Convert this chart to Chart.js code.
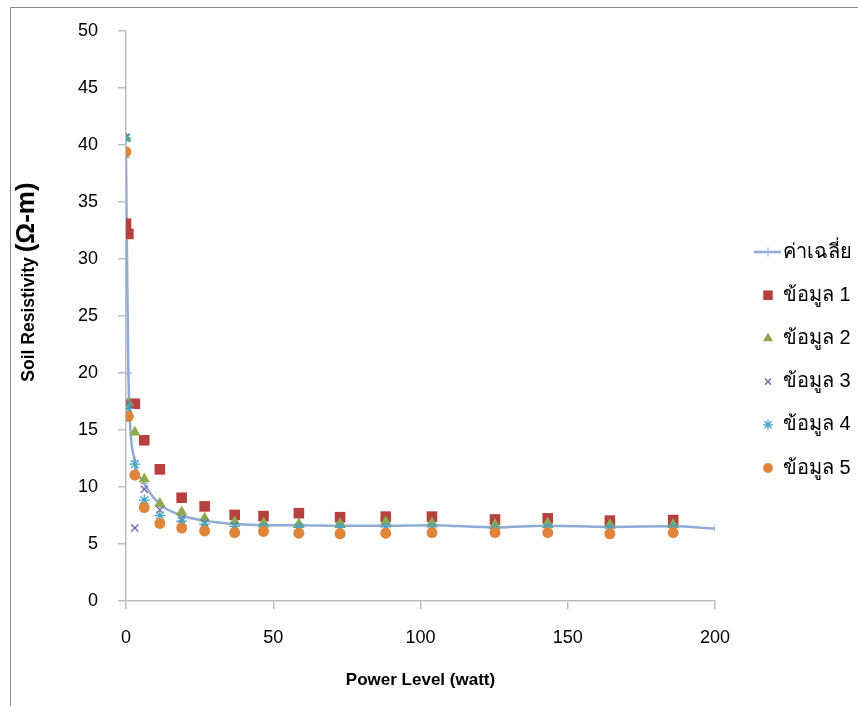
<!DOCTYPE html>
<html>
<head>
<meta charset="utf-8">
<script src="https://cdn.jsdelivr.net/npm/chart.js@4.4.1/dist/chart.umd.min.js"></script>
<style>
  body { margin: 0; background: #fff; }
  canvas { display: block; }
</style>
</head>
<body>
<canvas id="grafica" width="858" height="706"></canvas>
<script>
// valores de potencia (watt) para cada medicion
const powerW   = [0, 0.8, 3, 6.2, 11.5, 18.9, 26.7, 36.9, 46.7, 58.7, 72.7, 88.2, 103.9, 125.3, 143.2, 164.3, 185.8];
const avgPower = [0, 0.8, 3, 6.2, 11.5, 18.9, 26.7, 36.9, 46.7, 58.7, 72.7, 88.2, 103.9, 125.3, 143.2, 164.3, 185.8, 200];

// resistividad (ohm-m) por serie
const avgVals = [38.9, 20.0, 12.3, 10.3, 8.5, 7.5, 7.05, 6.75, 6.65, 6.65, 6.6, 6.6, 6.65, 6.45, 6.6, 6.5, 6.55, 6.35];
const data1 = [33.1, 32.2, 17.3, 14.1, 11.55, 9.06, 8.3, 7.55, 7.45, 7.7, 7.35, 7.4, 7.4, 7.15, 7.25, 7.05, 7.1];
const data2 = [40.6, 17.4, 14.8, 10.7, 8.55, 7.8, 7.25, 6.95, 6.85, 6.75, 6.8, 6.95, 6.85, 6.7, 6.85, 6.7, 6.7];
const data3 = [40.7, 17.4, 6.4, 9.8, 8.0, 7.2, 6.85, 6.6, 6.5, 6.5, 6.45, 6.5, 6.5, 6.35, 6.45, 6.4, 6.45];
const data4 = [40.6, 16.9, 12.0, 8.85, 7.5, 7.0, 6.75, 6.55, 6.5, 6.45, 6.45, 6.5, 6.5, 6.35, 6.45, 6.4, 6.45];
const data5 = [39.4, 16.2, 11.05, 8.2, 6.8, 6.4, 6.15, 6.0, 6.1, 5.95, 5.9, 5.95, 6.0, 6.0, 6.0, 5.9, 6.0];

const labels = ['ค่าเฉลี่ย', 'ข้อมูล 1', 'ข้อมูล 2', 'ข้อมูล 3', 'ข้อมูล 4', 'ข้อมูล 5'];
const xTicks = [0, 50, 100, 150, 200];
const yTicks = [0, 5, 10, 15, 20, 25, 30, 35, 40, 45, 50];

const FONT = '"Liberation Sans", Arial, "Noto Sans", sans-serif';

function pts(xs, ys) {
    return ys.map((v, i) => ({ x: xs[i], y: v }));
}

function serie(label, ys, style, color, radius, order) {
    return {
        type: 'scatter',
        label: label,
        data: pts(powerW, ys),
        pointStyle: style,
        pointRadius: radius,
        pointHoverRadius: radius,
        backgroundColor: color,
        borderColor: color,
        pointBorderWidth: (style === 'crossRot' || style === 'star') ? 1.3 : 0,
        order: order
    };
}

const datasets = [
    {
        type: 'line',
        label: labels[0],
        data: pts(avgPower, avgVals),
        borderColor: '#8fabd8',
        backgroundColor: '#8fabd8',
        borderWidth: 2.5,
        cubicInterpolationMode: 'monotone',
        pointStyle: 'cross',
        pointRadius: 4,
        pointBorderWidth: 1,
        fill: false,
        order: 10
    },
    serie(labels[1], data1, 'rect', '#b6413f', 7.5, 5),
    serie(labels[2], data2, 'triangle', '#8daa4c', 6.5, 4),
    serie(labels[3], data3, 'crossRot', '#7a5fa0', 5, 3),
    serie(labels[4], data4, 'star', '#46a6c2', 5.5, 2),
    serie(labels[5], data5, 'circle', '#e0843a', 5.5, 1)
];

// marco, titulos de ejes y leyenda
const extras = {
    id: 'extras',
    beforeDraw(chart) {
        const ctx = chart.ctx;
        ctx.save();
        ctx.strokeStyle = '#8a8a8a';
        ctx.lineWidth = 1;
        ctx.beginPath();
        ctx.moveTo(10.5, 706);
        ctx.lineTo(10.5, 7.5);
        ctx.lineTo(858, 7.5);
        ctx.stroke();
        ctx.restore();
    },
    afterDraw(chart) {
        const ctx = chart.ctx;
        const area = chart.chartArea;
        ctx.save();
        ctx.fillStyle = '#000';

        // titulo eje x
        ctx.font = 'bold 17px ' + FONT;
        ctx.textAlign = 'center';
        ctx.textBaseline = 'middle';
        ctx.fillText('Power Level (watt)', (area.left + area.right) / 2, 680);

        // titulo eje y (la unidad va mas grande)
        const t1 = 'Soil Resistivity ';
        const t2 = '(Ω-m)';
        const f1 = 'bold 17.5px ' + FONT;
        const f2 = 'bold 26px ' + FONT;
        ctx.font = f1;
        const w1 = ctx.measureText(t1).width;
        ctx.font = f2;
        const w2 = ctx.measureText(t2).width;
        ctx.translate(28, 282);
        ctx.rotate(-Math.PI / 2);
        ctx.textAlign = 'left';
        ctx.textBaseline = 'alphabetic';
        ctx.font = f1;
        ctx.fillText(t1, -(w1 + w2) / 2, 6);
        ctx.font = f2;
        ctx.fillText(t2, -(w1 + w2) / 2 + w1, 6);
        ctx.restore();

        // leyenda
        ctx.save();
        const y0 = 252, paso = 43.2, xm = 768, xt = 783;
        ctx.font = '20px ' + FONT;
        ctx.textBaseline = 'middle';
        ctx.textAlign = 'left';
        chart.data.datasets.forEach((ds, i) => {
            const y = y0 + i * paso;
            ctx.fillStyle = ds.backgroundColor;
            ctx.strokeStyle = ds.borderColor;
            if (i === 0) {
                ctx.lineWidth = 2.5;
                ctx.beginPath();
                ctx.moveTo(754, y);
                ctx.lineTo(781, y);
                ctx.stroke();
                ctx.lineWidth = 1;
                Chart.helpers.drawPoint(ctx, { pointStyle: 'cross', radius: 4.5, borderWidth: 1 }, xm, y);
            } else {
                ctx.lineWidth = ds.pointBorderWidth || 1;
                Chart.helpers.drawPoint(ctx, { pointStyle: ds.pointStyle, radius: ds.pointRadius * 0.9, borderWidth: ds.pointBorderWidth }, xm, y);
            }
            ctx.fillStyle = '#000';
            ctx.fillText(ds.label, xt, y);
        });
        ctx.restore();
    }
};

const ctx = document.getElementById('grafica').getContext('2d');
const chart = new Chart(ctx, {
    data: { datasets: datasets },
    options: {
        responsive: false,
        animation: false,
        layout: { padding: { left: 0, top: 31, right: 143, bottom: 0 } },
        plugins: {
            legend: { display: false },
            tooltip: { enabled: false }
        },
        scales: {
            x: {
                type: 'linear',
                min: 0,
                max: 200,
                afterBuildTicks: (s) => { s.ticks = xTicks.map(v => ({ value: v })); },
                afterFit: (s) => { s.height = 105; },
                grid: { drawOnChartArea: false, color: '#bdbdbd', tickLength: 8, lineWidth: 1.5 },
                border: { color: '#bdbdbd', width: 1.5 },
                ticks: { color: '#000', font: { family: FONT, size: 18 }, padding: 18, maxRotation: 0 }
            },
            y: {
                type: 'linear',
                min: 0,
                max: 50,
                afterBuildTicks: (s) => { s.ticks = yTicks.map(v => ({ value: v })); },
                afterFit: (s) => { s.width = 126; },
                grid: { drawOnChartArea: false, color: '#bdbdbd', tickLength: 8, lineWidth: 1.5 },
                border: { color: '#bdbdbd', width: 1.5 },
                ticks: { color: '#000', font: { family: FONT, size: 18 }, padding: 20 }
            }
        }
    },
    plugins: [extras]
});
</script>
</body>
</html>
